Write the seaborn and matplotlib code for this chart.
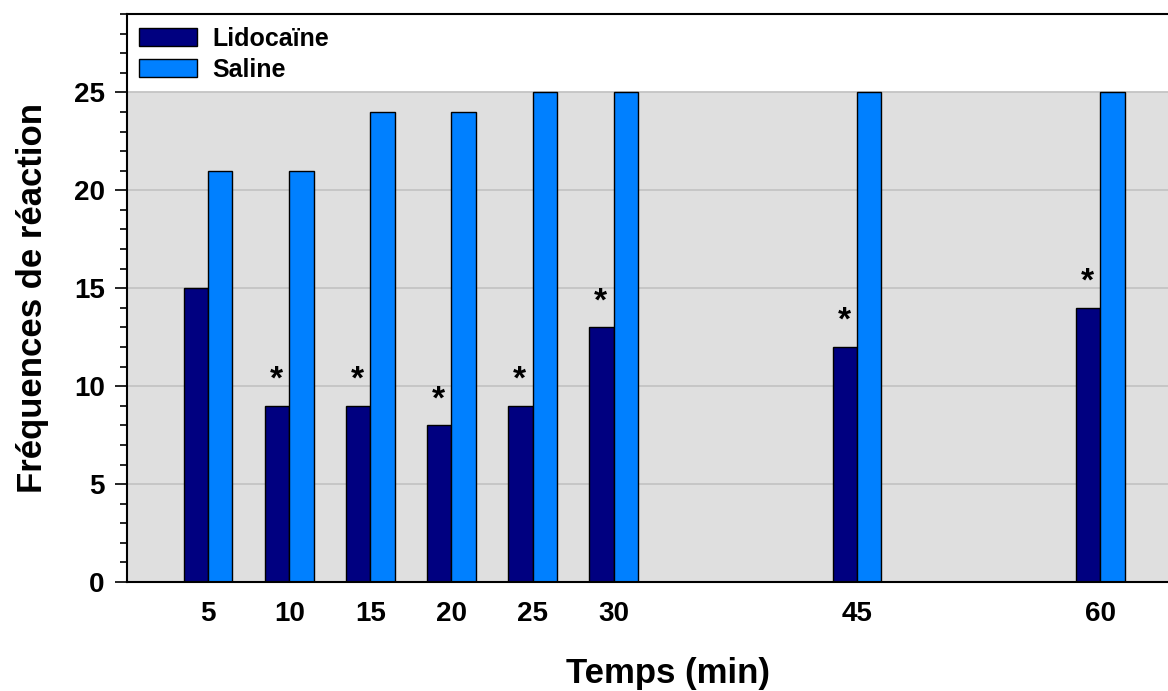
import pandas as pd
import numpy as np
import matplotlib.pyplot as plt
import seaborn as sns
from matplotlib.patches import Patch
from matplotlib.ticker import MultipleLocator

# values
times = [5, 10, 15, 20, 25, 30, 45, 60]
lidocaine = [15, 9, 9, 8, 9, 13, 12, 14]
saline = [21, 21, 24, 24, 25, 25, 25, 25]
significant = [False, True, True, True, True, True, True, True]
groups = ['Lidocaïne', 'Saline']
colors = {'Lidocaïne': '#000080', 'Saline': '#0080ff'}

df = pd.DataFrame({
    'temps': times * 2,
    'freq': lidocaine + saline,
    'groupe': [groups[0]] * len(times) + [groups[1]] * len(times),
})

sns.set_style('ticks')
plt.rcParams['font.family'] = ['Liberation Sans', 'DejaVu Sans']
plt.rcParams['font.weight'] = 'bold'
plt.rcParams['text.color'] = 'black'
plt.rcParams['axes.labelcolor'] = 'black'
plt.rcParams['xtick.color'] = 'black'
plt.rcParams['ytick.color'] = 'black'

fig = plt.figure(figsize=(11.68, 6.91), dpi=100)
# the plot area runs past the right edge of the picture, as in the original
ax = fig.add_axes([0.1087, 0.1577, 0.9265, 0.822])

# grey band only up to 25, with grid lines
ax.axhspan(0, 25, color='#dfdfdf', zorder=0, lw=0)
for yv in [5, 10, 15, 20, 25]:
    ax.axhline(yv, color='#c4c4c4', lw=1.3, zorder=0.5)

sns.barplot(data=df, x='temps', y='freq', hue='groupe', hue_order=groups,
            palette=colors, native_scale=True, width=0.6, gap=0,
            saturation=1, edgecolor='black', linewidth=1, errorbar=None,
            ax=ax, zorder=2)

# significance stars above Lidocaïne bars
for t, v, s in zip(times, lidocaine, significant):
    if s:
        ax.text(t - 0.8, v + 1.3, '*', ha='center', va='center',
                fontsize=24, fontweight='bold', color='black', zorder=3)

ax.set_xlim(0, 66.7)
ax.set_ylim(0, 29)
ax.set_xticks(times)
ax.set_xticklabels([str(t) for t in times])
ax.set_yticks([0, 5, 10, 15, 20, 25])
ax.yaxis.set_minor_locator(MultipleLocator(1))
ax.tick_params(axis='x', length=0, pad=14, labelsize=20)
ax.tick_params(axis='y', which='major', length=9, width=1.2, labelsize=20, pad=7)
ax.tick_params(axis='y', which='minor', length=5, width=1.2)
for lab in ax.get_xticklabels() + ax.get_yticklabels():
    lab.set_fontweight('bold')

ax.spines['right'].set_visible(False)
for sp in ['left', 'top', 'bottom']:
    ax.spines[sp].set_linewidth(1.5)
    ax.spines[sp].set_color('black')

ax.set_xlabel('Temps (min)', fontsize=25, fontweight='bold', labelpad=21)
ax.set_ylabel('Fréquences de réaction', fontsize=25, fontweight='bold', labelpad=18)

handles = [Patch(facecolor=colors[g], edgecolor='black', lw=1) for g in groups]
ax.get_legend().remove()
ax.legend(handles, groups, loc='upper left', frameon=False,
          handlelength=2.3, handleheight=0.75, labelspacing=0.3,
          handletextpad=0.6, borderaxespad=0.2, borderpad=0.3,
          prop={'weight': 'bold', 'size': 18})

fig.savefig('out.png', dpi=100)
